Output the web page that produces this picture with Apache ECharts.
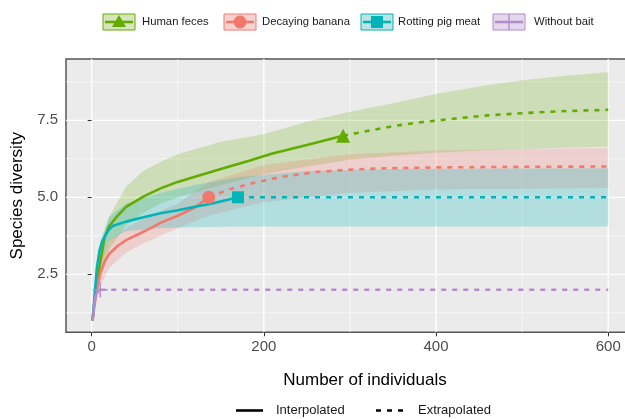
<!DOCTYPE html>
<html><head><meta charset="utf-8">
<script src="https://cdn.jsdelivr.net/npm/echarts@6/dist/echarts.min.js"></script>
<style>html,body{margin:0;padding:0;background:#fff;}#c{width:625px;height:419px;}</style>
</head><body><div id="c"></div>
<script>
// ---- data ----
const seriesNames = ['Human feces', 'Decaying banana', 'Rotting pig meat', 'Without bait'];
const styleNames = ['Interpolated', 'Extrapolated'];
const xTicks = [0, 200, 400, 600];
const xMinor = [100, 300, 500];
const yTicks = [2.5, 5.0, 7.5];
const yMinor = [1.25, 3.75, 6.25, 8.75];

// Human feces
const hfX = [1, 5, 10, 15, 20, 30, 40, 60, 80, 100, 120, 150, 180, 210, 250, 292];
const hfY = [1.0, 2.1, 2.9, 3.7, 4.05, 4.4, 4.69, 5.02, 5.29, 5.5, 5.67, 5.92, 6.16, 6.42, 6.7, 7.0];
const hfExtX = [292, 320, 350, 380, 420, 460, 500, 540, 600];
const hfExtY = [7.0, 7.15, 7.31, 7.43, 7.55, 7.66, 7.73, 7.79, 7.84];
const hfBandX = [1, 10, 20, 40, 60, 80, 100, 150, 200, 250, 300, 350, 400, 450, 500, 550, 600];
const hfLo = [1.0, 2.3, 3.3, 4.1, 4.5, 4.8, 5.0, 5.4, 5.75, 6.0, 6.22, 6.35, 6.45, 6.52, 6.57, 6.61, 6.64];
const hfHi = [1.0, 3.3, 4.35, 5.35, 5.85, 6.15, 6.4, 6.8, 7.05, 7.45, 7.78, 8.05, 8.35, 8.6, 8.8, 8.95, 9.06];

// Decaying banana
const dbX = [1, 5, 10, 15, 20, 30, 40, 60, 80, 100, 120, 136];
const dbY = [1.0, 1.9, 2.55, 2.9, 3.15, 3.42, 3.61, 3.88, 4.17, 4.4, 4.67, 5.0];
const dbExtX = [136, 160, 190, 220, 260, 300, 340, 400, 450, 500, 600];
const dbExtY = [5.0, 5.26, 5.48, 5.66, 5.82, 5.9, 5.94, 5.97, 5.98, 5.99, 6.0];
const dbBandX = [5, 10, 20, 40, 60, 100, 136, 200, 300, 400, 500, 600];
const dbLo = [1.5, 2.1, 2.7, 3.2, 3.5, 4.0, 4.4, 4.85, 5.15, 5.25, 5.28, 5.3];
const dbHi = [2.3, 3.0, 3.6, 4.0, 4.3, 4.8, 5.5, 6.05, 6.4, 6.52, 6.57, 6.6];

// Rotting pig meat
const rpX = [1, 4, 6, 9, 12, 15, 20, 25, 40, 60, 80, 100, 120, 140, 157, 170];
const rpY = [1.0, 2.0, 2.7, 3.25, 3.55, 3.72, 3.95, 4.08, 4.21, 4.35, 4.48, 4.58, 4.69, 4.8, 4.91, 5.0];
const rpExtX = [170, 600];
const rpExtY = [5.0, 5.0];
const rpBandX = [1, 10, 20, 40, 80, 120, 170, 250, 350, 600];
const rpLo = [1.0, 2.8, 3.6, 3.9, 4.0, 4.03, 4.05, 4.05, 4.05, 4.05];
const rpHi = [1.0, 3.6, 4.35, 4.8, 5.15, 5.4, 5.65, 5.85, 5.92, 5.94];

// Without bait
const wbX = [1, 3, 5, 8, 10];
const wbY = [1.0, 1.55, 1.85, 1.98, 2.0];
const wbExtX = [10, 600];
const wbExtY = [2.0, 2.0];

// endpoints (observed samples)
const obsPoints = [[292, 7.0], [136, 5.0], [170, 5.0], [10, 2.0]];

// ---- style ----
const colors = ['#62AB00', '#F3786C', '#00B4B8', '#B38CCB'];
const fills = ['rgba(98,171,0,0.22)', 'rgba(243,120,108,0.24)', 'rgba(0,180,184,0.24)', 'rgba(179,140,203,0.25)'];
const keyFills = ['#D6E4C0', '#F6D3D0', '#BDE3E4', '#E4D8EC'];
const plusPath = 'path://M0,6.3H14V7.7H0Z M6.3,0H7.7V14H6.3Z';
const markerSym = ['triangle', 'circle', 'rect', plusPath];
const markerSize = [14, 13, 12, 15];

const Y_MIN = 0.617, Y_MAX = 9.49, X_MIN = -29.8, X_MAX = 664.8;

function zip(xs, ys) { return xs.map((x, i) => [x, ys[i]]); }

function bandSeries(xs, lo, hi, fill) {
  return {
    type: 'custom', silent: true, z: 1,
    data: xs.map((x, i) => [x, lo[i], hi[i]]),
    encode: { x: 0, y: [1, 2] },
    renderItem: function (params, api) {
      if (params.dataIndex !== 0) return null;
      const pts = [];
      for (let i = 0; i < xs.length; i++) pts.push(api.coord([xs[i], hi[i]]));
      for (let i = xs.length - 1; i >= 0; i--) pts.push(api.coord([xs[i], lo[i]]));
      return { type: 'polygon', shape: { points: pts }, style: { fill: fill } };
    }
  };
}

function gridSeries(vals, isX, width) {
  return {
    type: 'custom', silent: true, z: 0,
    data: vals.map(v => [v]),
    encode: isX ? { x: 0 } : { y: 0 },
    renderItem: function (params, api) {
      const v = vals[params.dataIndex];
      const a = isX ? api.coord([v, Y_MIN]) : api.coord([X_MIN, v]);
      const b = isX ? api.coord([v, Y_MAX]) : api.coord([X_MAX, v]);
      return { type: 'line', shape: { x1: a[0], y1: a[1], x2: b[0], y2: b[1] },
        style: { stroke: '#FFFFFF', lineWidth: width } };
    }
  };
}

function lineSeries(xs, ys, color, dashed) {
  return {
    type: 'line', z: 3, silent: true, showSymbol: false, symbol: 'none',
    data: zip(xs, ys),
    lineStyle: { color: color, width: 2.6, type: dashed ? [5, 6] : 'solid', cap: 'butt' }
  };
}

const series = [];
series.push(gridSeries(xMinor, true, 0.6));
series.push(gridSeries(yMinor, false, 0.6));
series.push(gridSeries(xTicks, true, 1.3));
series.push(gridSeries(yTicks, false, 1.3));
series.push(bandSeries(hfBandX, hfLo, hfHi, fills[0]));
series.push(bandSeries(dbBandX, dbLo, dbHi, fills[1]));
series.push(bandSeries(rpBandX, rpLo, rpHi, fills[2]));
series.push(lineSeries(hfX, hfY, colors[0], false));
series.push(lineSeries(hfExtX, hfExtY, colors[0], true));
series.push(lineSeries(dbX, dbY, colors[1], false));
series.push(lineSeries(dbExtX, dbExtY, colors[1], true));
series.push(lineSeries(rpX, rpY, colors[2], false));
series.push(lineSeries(rpExtX, rpExtY, colors[2], true));
series.push(lineSeries(wbX, wbY, colors[3], false));
series.push(lineSeries(wbExtX, wbExtY, colors[3], true));
obsPoints.forEach((p, i) => {
  series.push({
    type: 'scatter', z: 4, silent: true, data: [p],
    symbol: markerSym[i], symbolSize: markerSize[i],
    itemStyle: { color: colors[i], opacity: 1 }
  });
});

// ---- legend (graphic) ----
const graphics = [];
const keyX = [103, 224, 361, 493];
const textX = [142, 262, 398, 534];
const keyY = 14, keyW = 32, keyH = 16;
seriesNames.forEach((name, i) => {
  const x0 = keyX[i], cy = keyY + keyH / 2, cx = x0 + keyW / 2;
  graphics.push({ type: 'rect', shape: { x: x0, y: keyY, width: keyW, height: keyH },
    style: { fill: keyFills[i], stroke: colors[i], lineWidth: 1 } });
  graphics.push({ type: 'line', shape: { x1: x0 + 2, y1: cy, x2: x0 + keyW - 2, y2: cy },
    style: { stroke: colors[i], lineWidth: 2.6 } });
  if (i === 0) {
    graphics.push({ type: 'polygon', shape: { points: [[cx, cy - 7], [cx - 7, cy + 5], [cx + 7, cy + 5]] }, style: { fill: colors[i] } });
  } else if (i === 1) {
    graphics.push({ type: 'circle', shape: { cx: cx, cy: cy, r: 6.5 }, style: { fill: colors[i] } });
  } else if (i === 2) {
    graphics.push({ type: 'rect', shape: { x: cx - 6, y: cy - 6, width: 12, height: 12 }, style: { fill: colors[i] } });
  } else {
    graphics.push({ type: 'line', shape: { x1: cx, y1: keyY, x2: cx, y2: keyY + keyH }, style: { stroke: colors[i], lineWidth: 1.4 } });
  }
  graphics.push({ type: 'text', x: textX[i], y: cy, style: { text: name, fill: '#1A1A1A',
    font: '11.3px "Liberation Sans", Arial, sans-serif', textVerticalAlign: 'middle', textAlign: 'left' } });
});
// bottom legend
graphics.push({ type: 'line', shape: { x1: 236, y1: 410.5, x2: 263, y2: 410.5 }, style: { stroke: '#000', lineWidth: 2.6 } });
graphics.push({ type: 'text', x: 276, y: 410.5, style: { text: styleNames[0], fill: '#1A1A1A',
  font: '13px "Liberation Sans", Arial, sans-serif', textVerticalAlign: 'middle' } });
graphics.push({ type: 'line', shape: { x1: 376, y1: 410.5, x2: 404, y2: 410.5 }, style: { stroke: '#000', lineWidth: 2.6, lineDash: [5, 6] } });
graphics.push({ type: 'text', x: 418, y: 410.5, style: { text: styleNames[1], fill: '#1A1A1A',
  font: '13px "Liberation Sans", Arial, sans-serif', textVerticalAlign: 'middle' } });

const chart = echarts.init(document.getElementById('c'), null, { renderer: 'canvas' });
chart.setOption({
  animation: false,
  backgroundColor: '#FFFFFF',
  textStyle: { fontFamily: '"Liberation Sans", Arial, sans-serif' },
  grid: { left: 66, top: 59, width: 598, height: 273.3, show: true, backgroundColor: '#EBEBEB',
    borderColor: '#555555', borderWidth: 1.5, outerBoundsMode: 'none', containLabel: false },
  xAxis: {
    type: 'value', min: X_MIN, max: X_MAX,
    name: 'Number of individuals', nameLocation: 'middle', nameGap: 40,
    nameTextStyle: { fontSize: 17, color: '#000' },
    axisLine: { show: false },
    axisTick: { show: true, customValues: xTicks, length: 4, lineStyle: { color: '#333', width: 1 } },
    axisLabel: { customValues: xTicks, fontSize: 15, color: '#4D4D4D', margin: 7 },
    splitLine: { show: false }, minorSplitLine: { show: false }
  },
  yAxis: {
    type: 'value', min: Y_MIN, max: Y_MAX,
    name: 'Species diversity', nameLocation: 'middle', nameGap: 37,
    nameTextStyle: { fontSize: 17, color: '#000' },
    axisLine: { show: false },
    axisTick: { show: true, customValues: yTicks, length: 4, lineStyle: { color: '#333', width: 1 } },
    axisLabel: { customValues: yTicks, fontSize: 15, color: '#4D4D4D', margin: 8,
      formatter: v => v.toFixed(1) },
    splitLine: { show: false }
  },
  graphic: graphics,
  series: series
});
</script>
</body></html>
